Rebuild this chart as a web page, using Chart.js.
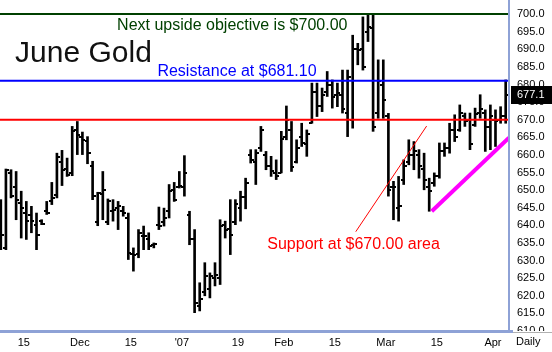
<!DOCTYPE html>
<html>
<head>
<meta charset="utf-8">
<script src="https://cdn.jsdelivr.net/npm/chart.js@4.4.1/dist/chart.umd.min.js"></script>
<style>
  html, body { margin: 0; padding: 0; background: #fff; }
  #wrap { width: 552px; height: 352px; }
</style>
</head>
<body>
<div id="wrap"><canvas id="myChart" width="552" height="352"></canvas></div>
<script>
// June gold daily bars, Nov 2006 - Apr 2007
const opens = [
  640.0, 633.6, 655.0, 651.0, 646.4, 643.5, 643.0, 640.0, 641.3, 644.0,
  647.0, 648.5, 658.0, 656.0, 655.0, 667.0, 665.0, 664.0, 657.0, 641.0,
  649.0, 641.0, 644.0, 645.0, 644.0, 642.0, 632.0, 632.0, 637.0, 636.0,
  634.5, 640.0, 641.0, 644.0, 650.0, 651.0, 651.0, 643.0, 636.0, 617.0,
  621.0, 622.0, 625.0, 625.0, 640.0, 639.0, 641.0, 645.0, 648.0, 660.0,
  658.0, 662.0, 660.0, 657.0, 655.0, 655.0, 665.0, 667.0, 658.0, 665.0,
  663.0, 669.0, 678.0, 674.0, 678.0, 680.0, 677.0, 677.0, 672.0, 670.0,
  690.0, 690.0, 695.0, 696.0, 672.0, 680.0, 671.0, 651.0, 645.0, 653.0,
  658.0, 660.0, 660.0, 656.0, 651.0, 652.0, 654.0, 661.0, 662.0, 667.0,
  667.0, 671.0, 670.0, 668.5, 672.0, 672.0, 668.0, 670.0, 670.0, 671.0
];
const highs = [
  647.3, 656.0, 655.8, 655.3, 649.7, 646.8, 645.4, 643.5, 641.6, 646.8,
  652.2, 660.5, 661.3, 659.1, 668.1, 669.5, 666.5, 665.2, 658.2, 649.4,
  655.3, 647.5, 647.3, 646.8, 645.4, 643.5, 633.6, 638.8, 639.8, 637.9,
  635.0, 645.2, 644.9, 651.6, 652.2, 655.3, 659.8, 644.0, 638.8, 623.7,
  629.4, 626.5, 629.4, 641.6, 641.2, 647.3, 647.3, 649.7, 653.4, 661.5,
  661.5, 668.1, 661.0, 659.6, 658.6, 666.7, 673.9, 669.5, 664.3, 669.0,
  667.1, 680.4, 680.4, 679.0, 683.7, 681.3, 680.4, 684.1, 684.1, 694.0,
  691.7, 699.2, 699.7, 699.7, 687.0, 687.0, 671.8, 652.5, 653.9, 658.6,
  664.3, 663.8, 661.5, 660.5, 653.4, 654.9, 663.4, 663.4, 669.0, 671.4,
  674.2, 671.9, 671.9, 673.3, 677.1, 672.8, 674.2, 672.8, 673.7, 681.3
];
const lows = [
  633.1, 633.1, 647.8, 641.6, 636.4, 636.0, 637.9, 633.1, 640.2, 643.1,
  645.9, 647.8, 651.3, 653.9, 654.1, 660.1, 660.1, 657.5, 647.3, 639.9,
  641.6, 640.2, 641.2, 638.8, 642.6, 630.3, 627.0, 630.8, 633.1, 633.1,
  633.6, 638.8, 639.8, 642.1, 646.8, 650.6, 648.3, 634.5, 615.2, 615.7,
  620.0, 619.4, 622.8, 623.2, 636.4, 631.7, 640.2, 641.2, 644.7, 657.7,
  651.6, 661.0, 655.8, 653.9, 653.0, 654.9, 664.3, 655.3, 657.7, 662.4,
  659.6, 669.0, 670.9, 672.3, 676.6, 673.3, 673.7, 671.9, 665.2, 667.6,
  685.6, 684.1, 692.2, 666.7, 670.4, 670.4, 648.3, 641.6, 641.2, 651.6,
  657.2, 655.8, 653.4, 650.1, 644.0, 651.1, 653.4, 659.6, 660.5, 663.8,
  666.7, 668.1, 661.5, 668.1, 670.4, 661.0, 661.5, 662.4, 669.0, 669.0
];
const closes = [
  637.2, 655.8, 648.3, 647.3, 645.0, 641.2, 641.2, 637.4, 640.5, 643.5,
  647.8, 659.5, 655.8, 654.4, 666.7, 665.7, 664.3, 660.5, 648.3, 649.2,
  650.1, 646.8, 644.5, 645.4, 643.5, 632.2, 631.7, 637.9, 636.9, 634.1,
  634.6, 639.8, 642.1, 649.7, 647.3, 651.1, 654.9, 636.0, 618.0, 619.0,
  625.6, 625.6, 625.8, 639.8, 638.8, 637.4, 646.0, 648.0, 652.0, 658.5,
  660.5, 667.0, 657.0, 655.5, 654.0, 664.5, 670.0, 656.5, 662.0, 663.5,
  666.0, 678.0, 674.0, 677.0, 680.0, 676.5, 677.5, 673.0, 682.0, 690.0,
  689.8, 685.1, 696.4, 668.0, 681.0, 675.5, 650.0, 651.0, 645.4, 656.8,
  660.0, 661.0, 656.8, 653.0, 649.7, 654.0, 661.0, 662.0, 667.0, 665.0,
  672.0, 669.5, 663.0, 671.5, 673.0, 668.0, 671.0, 669.5, 671.0, 677.1
];

// date ticks: bar index where each label sits
const tickIdx = [4, 15, 25, 35, 46, 55, 65, 75, 85, 96];
const tickText = ['15', 'Dec', '15', "'07", '19', 'Feb', '15', 'Mar', '15', 'Apr'];

// levels and trend lines (bar index, price)
const objective = 700.00;
const resistance = 681.10;
const support = 670.00;
const supportLine = [[69.6, 638.2], [83.5, 668.2]];
const trendLine = [[84.5, 644.0], [99.65, 664.9]];

const FONT = '"Liberation Sans", Arial, sans-serif';

// open tick on the left, close tick on the right
function tickImg(left) {
  const c = document.createElement('canvas');
  c.width = 6; c.height = 2;
  const g = c.getContext('2d');
  g.fillStyle = '#000';
  g.fillRect(left ? 0 : 3, 0, 3, 2);
  return c;
}

const notes = [
  { text: 'Next upside objective is $700.00', x: 22.8, y: 695.5, color: '#004000', size: 16 },
  { text: 'Resistance at $681.10', x: 30.7, y: 682.4, color: '#0000ff', size: 16 },
  { text: 'Support at $670.00 area', x: 52.25, y: 633.3, color: '#ff0000', size: 16 },
  { text: 'June Gold', x: 2.8, y: 686.5, color: '#111', size: 30 }
];

const noPad = s => { s.paddingTop = 0; s.paddingBottom = 0; s.paddingLeft = 0; s.paddingRight = 0; };

const overlay = {
  id: 'overlay',
  afterDatasetsDraw(chart) {
    const { ctx, chartArea: a, scales: { x, y } } = chart;
    ctx.save();
    ctx.beginPath();
    ctx.rect(a.left, a.top, a.right - a.left, a.bottom - a.top);
    ctx.clip();
    const hline = (v, color) => {
      const py = y.getPixelForValue(v);
      ctx.strokeStyle = color; ctx.lineWidth = 2;
      ctx.beginPath(); ctx.moveTo(a.left, py); ctx.lineTo(a.right, py); ctx.stroke();
    };
    hline(objective, '#004000');
    hline(resistance, '#0000ff');
    hline(support, '#ff0000');

    const seg = (pts, color, w) => {
      ctx.strokeStyle = color; ctx.lineWidth = w;
      ctx.beginPath();
      ctx.moveTo(x.getPixelForValue(pts[0][0]), y.getPixelForValue(pts[0][1]));
      ctx.lineTo(x.getPixelForValue(pts[1][0]), y.getPixelForValue(pts[1][1]));
      ctx.stroke();
    };
    seg(supportLine, '#ff0000', 1);
    seg(trendLine, '#ff00ff', 4);

    ctx.textBaseline = 'alphabetic';
    ctx.textAlign = 'left';
    notes.forEach(n => {
      ctx.font = n.size + 'px ' + FONT;
      ctx.fillStyle = n.color;
      ctx.fillText(n.text, x.getPixelForValue(n.x), y.getPixelForValue(n.y));
    });
    ctx.restore();
  },
  afterDraw(chart) {
    const { ctx, chartArea: a, scales: { y } } = chart;
    const W = chart.width, H = chart.height;
    ctx.save();
    // cover the part of the lowest price label below the frame
    ctx.fillStyle = '#fff';
    ctx.fillRect(a.right + 1, a.bottom, W - a.right, H - a.bottom);
    // frame
    ctx.fillStyle = '#8ea2d6';
    ctx.fillRect(a.right - 1, 0, 2, a.bottom + 2);
    ctx.fillRect(0, a.bottom - 1, a.right + 4, 3);
    ctx.fillStyle = '#b0b0b0';
    ctx.fillRect(a.right + 4, a.bottom + 1, W - a.right, 1);
    // last price box
    const last = closes[closes.length - 1];
    const py = y.getPixelForValue(last);
    ctx.fillStyle = '#000';
    ctx.fillRect(a.right + 2, Math.round(py) - 9, W - a.right - 2, 18);
    ctx.fillStyle = '#fff';
    ctx.font = '11px ' + FONT;
    ctx.textBaseline = 'middle';
    ctx.textAlign = 'left';
    ctx.fillText(last.toFixed(1), a.right + 8, py);
    // period label
    ctx.fillStyle = '#000';
    ctx.fillText('Daily', a.right + 7, a.bottom + 11);
    ctx.restore();
  }
};

const ctx = document.getElementById('myChart').getContext('2d');
new Chart(ctx, {
  type: 'scatter',
  data: {
    datasets: [
      {
        type: 'bar',
        data: highs.map((h, i) => ({ x: i, y: [lows[i], h] })),
        backgroundColor: '#000',
        borderWidth: 0,
        barThickness: 2,
        order: 2
      },
      {
        data: opens.map((v, i) => ({ x: i, y: v })),
        pointStyle: tickImg(true),
        pointRadius: 3,
        order: 1
      },
      {
        data: closes.map((v, i) => ({ x: i, y: v })),
        pointStyle: tickImg(false),
        pointRadius: 3,
        order: 1
      }
    ]
  },
  options: {
    responsive: false,
    animation: false,
    events: [],
    layout: { padding: 0, autoPadding: false },
    plugins: { legend: { display: false }, tooltip: { enabled: false } },
    scales: {
      x: {
        type: 'linear',
        offset: false,
        min: -0.16,
        max: 99.65,
        grid: { display: false, drawTicks: false },
        border: { display: false },
        afterBuildTicks: s => { s.ticks = tickIdx.map(v => ({ value: v + 0.5 })); },
        afterFit: s => { s.height = 21; noPad(s); },
        ticks: {
          autoSkip: false,
          maxRotation: 0,
          padding: 5,
          color: '#000',
          font: { family: FONT, size: 11 },
          callback: (v, i) => tickText[i]
        }
      },
      y: {
        position: 'right',
        min: 610,
        max: 704,
        grid: { display: false, drawTicks: false },
        border: { display: false },
        afterFit: s => { s.width = 43; noPad(s); },
        ticks: {
          stepSize: 5,
          includeBounds: false,
          padding: 8,
          color: '#000',
          font: { family: FONT, size: 11 },
          callback: v => v.toFixed(1)
        }
      }
    }
  },
  plugins: [overlay]
});
</script>
</body>
</html>
